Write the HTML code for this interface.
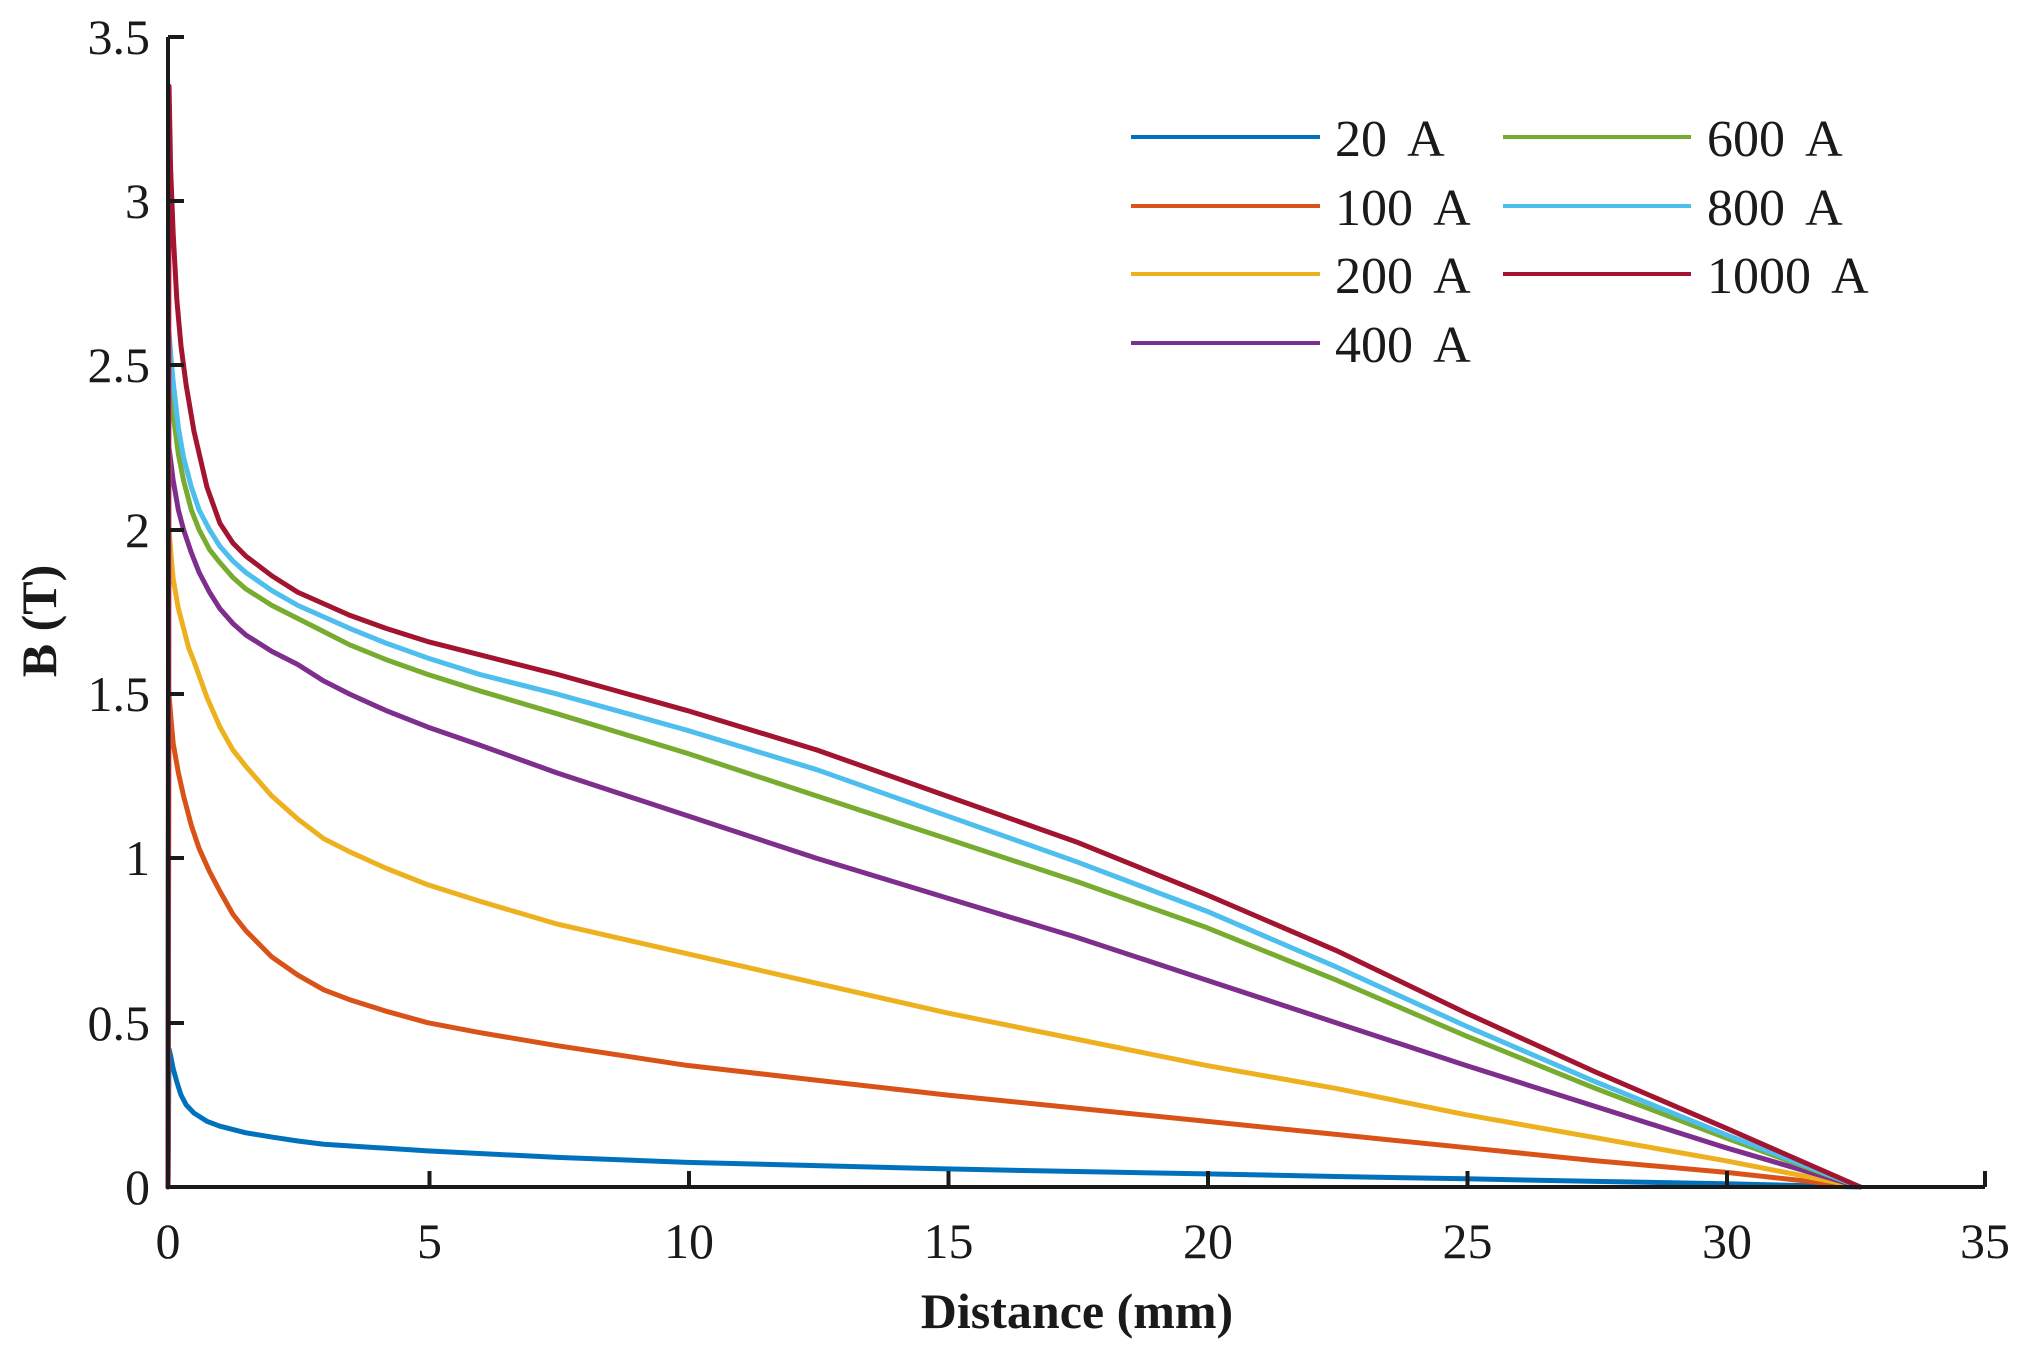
<!DOCTYPE html>
<html><head><meta charset="utf-8"><style>
html,body{margin:0;padding:0;background:#fff;}
svg{display:block;}
text{font-family:"Liberation Serif",serif;fill:#1a1a1a;}
</style></head><body>
<svg width="2028" height="1352" viewBox="0 0 2028 1352" xmlns="http://www.w3.org/2000/svg">
<g transform="translate(168,1187) scale(51.91,-328.6)" fill="none" stroke-linejoin="round" stroke-linecap="round">
<polyline vector-effect="non-scaling-stroke" stroke="#0072BD" stroke-width="5" points="0,0 0.02,0.42 0.05,0.4 0.1,0.36 0.17,0.32 0.25,0.28 0.35,0.25 0.5,0.225 0.75,0.2 1,0.185 1.5,0.165 2,0.152 2.5,0.14 3,0.13 4,0.12 5,0.11 6,0.102 7.5,0.09 10,0.075 12.5,0.065 15,0.055 17.5,0.047 20,0.04 22.5,0.032 25,0.025 27.5,0.017 30,0.01 32.6,0"/>
<polyline vector-effect="non-scaling-stroke" stroke="#D95319" stroke-width="5" points="0,0 0.02,1.5 0.06,1.42 0.1,1.35 0.2,1.26 0.3,1.19 0.45,1.1 0.6,1.03 0.8,0.96 1,0.9 1.25,0.83 1.5,0.78 2,0.7 2.5,0.645 3,0.6 3.5,0.57 4.2,0.535 5,0.5 6,0.47 7.5,0.43 10,0.37 12.5,0.325 15,0.28 17.5,0.24 20,0.2 22.5,0.16 25,0.12 27.5,0.08 30,0.045 32.6,0"/>
<polyline vector-effect="non-scaling-stroke" stroke="#EDB120" stroke-width="5" points="0,0 0.02,2.0 0.06,1.92 0.1,1.85 0.2,1.76 0.3,1.7 0.4,1.64 0.5,1.6 0.75,1.49 1,1.4 1.25,1.33 1.5,1.28 2,1.19 2.5,1.12 3,1.06 3.5,1.02 4.2,0.97 5,0.92 6,0.87 7.5,0.8 10,0.71 12.5,0.62 15,0.53 17.5,0.45 20,0.37 22.5,0.3 25,0.22 27.5,0.15 30,0.08 32.6,0"/>
<polyline vector-effect="non-scaling-stroke" stroke="#7E2F8E" stroke-width="5" points="0,0 0.02,2.25 0.06,2.2 0.1,2.15 0.2,2.06 0.3,2.0 0.45,1.93 0.6,1.87 0.8,1.81 1,1.76 1.25,1.715 1.5,1.68 2,1.63 2.5,1.59 3,1.54 3.5,1.5 4.2,1.45 5,1.4 6,1.345 7.5,1.26 10,1.13 12.5,1.0 15,0.88 17.5,0.76 20,0.63 22.5,0.5 25,0.37 27.5,0.245 30,0.12 32.6,0"/>
<polyline vector-effect="non-scaling-stroke" stroke="#77AC30" stroke-width="5" points="0,0 0.02,2.5 0.06,2.42 0.1,2.35 0.2,2.23 0.3,2.15 0.45,2.06 0.6,2.0 0.8,1.94 1,1.9 1.25,1.855 1.5,1.82 2,1.77 2.5,1.73 3,1.69 3.5,1.65 4.2,1.605 5,1.56 6,1.51 7.5,1.44 10,1.32 12.5,1.19 15,1.06 17.5,0.93 20,0.79 22.5,0.63 25,0.46 27.5,0.3 30,0.15 32.6,0"/>
<polyline vector-effect="non-scaling-stroke" stroke="#4DBEEE" stroke-width="5" points="0,0 0.02,2.6 0.06,2.52 0.1,2.45 0.2,2.31 0.3,2.22 0.45,2.13 0.6,2.06 0.8,2.0 1,1.95 1.25,1.905 1.5,1.87 2,1.815 2.5,1.77 3,1.735 3.5,1.7 4.2,1.655 5,1.61 6,1.56 7.5,1.5 10,1.39 12.5,1.27 15,1.13 17.5,0.99 20,0.84 22.5,0.67 25,0.49 27.5,0.32 30,0.16 32.6,0"/>
<polyline vector-effect="non-scaling-stroke" stroke="#A2142F" stroke-width="5" points="0,0 0.02,3.35 0.05,3.1 0.1,2.9 0.17,2.7 0.25,2.56 0.35,2.44 0.5,2.3 0.75,2.13 1,2.02 1.25,1.96 1.5,1.92 2,1.86 2.5,1.81 3,1.775 3.5,1.74 4.2,1.7 5,1.66 6,1.62 7.5,1.56 10,1.45 12.5,1.33 15,1.19 17.5,1.05 20,0.89 22.5,0.72 25,0.53 27.5,0.35 30,0.18 32.6,0"/>
</g>
<g stroke="#1a1a1a" stroke-width="4" fill="none">
<polyline points="168,37 168,1187 1985,1187"/>
<line x1="168" y1="37" x2="184" y2="37"/>
<line x1="168" y1="201" x2="184" y2="201"/>
<line x1="168" y1="365" x2="184" y2="365"/>
<line x1="168" y1="530" x2="184" y2="530"/>
<line x1="168" y1="694" x2="184" y2="694"/>
<line x1="168" y1="858" x2="184" y2="858"/>
<line x1="168" y1="1023" x2="184" y2="1023"/>
<line x1="429.5" y1="1187" x2="429.5" y2="1171"/>
<line x1="689" y1="1187" x2="689" y2="1171"/>
<line x1="948.5" y1="1187" x2="948.5" y2="1171"/>
<line x1="1208" y1="1187" x2="1208" y2="1171"/>
<line x1="1467.5" y1="1187" x2="1467.5" y2="1171"/>
<line x1="1727" y1="1187" x2="1727" y2="1171"/>
<line x1="1985" y1="1187" x2="1985" y2="1171"/>
</g>
<g font-size="50" text-anchor="end">
<text x="150" y="54">3.5</text>
<text x="150" y="218">3</text>
<text x="150" y="382">2.5</text>
<text x="150" y="547">2</text>
<text x="150" y="711">1.5</text>
<text x="150" y="875">1</text>
<text x="150" y="1040">0.5</text>
<text x="150" y="1204">0</text>
</g>
<g font-size="50" text-anchor="middle">
<text x="168" y="1258">0</text>
<text x="429.5" y="1258">5</text>
<text x="689" y="1258">10</text>
<text x="948.5" y="1258">15</text>
<text x="1208" y="1258">20</text>
<text x="1467.5" y="1258">25</text>
<text x="1727" y="1258">30</text>
<text x="1985" y="1258">35</text>
</g>
<text x="1077" y="1328" font-size="50" font-weight="bold" text-anchor="middle">Distance (mm)</text>
<text transform="translate(56,621) rotate(-90)" font-size="50" font-weight="bold" text-anchor="middle">B (T)</text>
<g stroke-width="4">
<line x1="1131" y1="137" x2="1320" y2="137" stroke="#0072BD"/>
<line x1="1131" y1="206" x2="1320" y2="206" stroke="#D95319"/>
<line x1="1131" y1="274" x2="1320" y2="274" stroke="#EDB120"/>
<line x1="1131" y1="343" x2="1320" y2="343" stroke="#7E2F8E"/>
<line x1="1503" y1="137" x2="1691" y2="137" stroke="#77AC30"/>
<line x1="1503" y1="206" x2="1691" y2="206" stroke="#4DBEEE"/>
<line x1="1503" y1="274" x2="1691" y2="274" stroke="#A2142F"/>
</g>
<g font-size="52" word-spacing="10">
<text x="1335" y="156">20 A</text>
<text x="1335" y="225">100 A</text>
<text x="1335" y="293">200 A</text>
<text x="1335" y="362">400 A</text>
<text x="1707" y="156">600 A</text>
<text x="1707" y="225">800 A</text>
<text x="1707" y="293">1000 A</text>
</g>
</svg>
</body></html>
